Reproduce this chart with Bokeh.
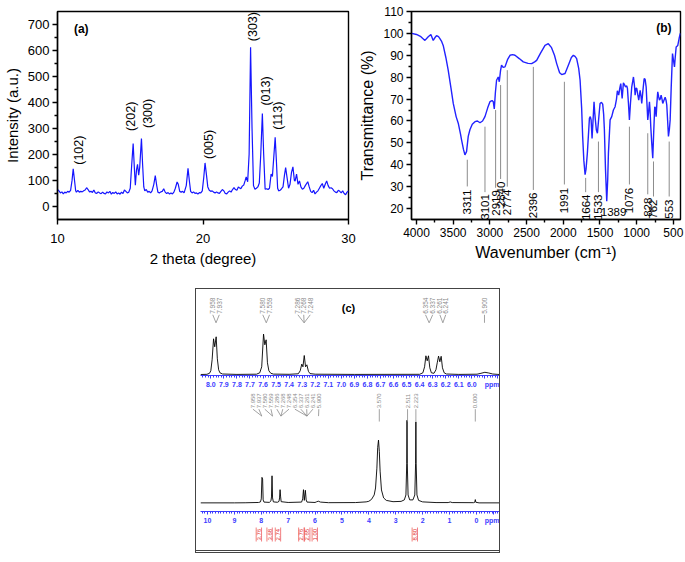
import numpy as np
from bokeh.plotting import figure
from bokeh.layouts import row, column
from bokeh.models import Range1d, FixedTicker, Spacer, PrintfTickFormatter
from bokeh.core.properties import value
from bokeh.embed import file_html
from bokeh.resources import INLINE

FONT = "Liberation Sans"

# ---------------- (a) XRD data ----------------
xrd_2theta = [10.0, 10.1, 10.2, 10.3, 10.4, 10.5, 10.6, 10.7, 10.8, 10.9, 11.0, 11.08, 11.18, 11.25, 11.3, 11.4,
              11.5, 11.6, 11.7, 11.8, 11.9, 12.0, 12.1, 12.2, 12.3, 12.4, 12.5, 12.6, 12.7, 12.8, 12.9, 13.0,
              13.1, 13.2, 13.3, 13.4, 13.5, 13.6, 13.7, 13.8, 13.9, 14.0, 14.1, 14.2, 14.3, 14.4, 14.5, 14.6,
              14.7, 14.8, 14.9, 15.0, 15.1, 15.2, 15.28, 15.35, 15.43, 15.5, 15.58, 15.65, 15.77, 15.85, 15.93,
              16.0, 16.1, 16.2, 16.3, 16.4, 16.5, 16.62, 16.72, 16.82, 16.9, 17.0, 17.1, 17.2, 17.3, 17.4, 17.5,
              17.6, 17.7, 17.8, 17.9, 18.0, 18.1, 18.22, 18.3, 18.4, 18.5, 18.6, 18.7, 18.85, 18.97, 19.07, 19.15,
              19.25, 19.35, 19.45, 19.55, 19.65, 19.75, 19.85, 19.95, 20.05, 20.14, 20.24, 20.33, 20.43, 20.53,
              20.63, 20.73, 20.83, 20.93, 21.03, 21.13, 21.23, 21.33, 21.43, 21.53, 21.63, 21.73, 21.83, 21.93,
              22.03, 22.13, 22.23, 22.33, 22.43, 22.5, 22.6, 22.7, 22.8, 22.9, 22.97, 23.07, 23.17, 23.27, 23.37,
              23.47, 23.57, 23.67, 23.77, 23.87, 23.97, 24.08, 24.17, 24.27, 24.37, 24.47, 24.57, 24.68, 24.77,
              24.96, 25.04, 25.13, 25.2, 25.3, 25.4, 25.5, 25.6, 25.68, 25.78, 25.88, 25.98, 26.08, 26.18, 26.28,
              26.33, 26.43, 26.53, 26.63, 26.73, 26.83, 26.93, 27.03, 27.2, 27.3, 27.4, 27.5, 27.6, 27.7, 27.8,
              27.9, 28.0, 28.1, 28.2, 28.3, 28.4, 28.5, 28.6, 28.7, 28.8, 28.9, 29.0, 29.1, 29.2, 29.3, 29.4,
              29.5, 29.6, 29.7, 29.8, 29.9, 30.0]
xrd_intensity = [65, 60, 52, 56, 48, 55, 52, 58, 55, 62, 100, 144, 95, 60, 55, 62,
                 55, 58, 56, 60, 63, 72, 65, 56, 58, 54, 63, 52, 50, 56, 52, 49,
                 55, 50, 48, 56, 52, 58, 47, 54, 50, 56, 48, 52, 47, 55, 50, 63,
                 58, 52, 55, 70, 160, 241, 150, 82, 140, 162, 120, 150, 261, 160, 75,
                 60, 65, 55, 58, 52, 60, 85, 118, 80, 55, 52, 56, 58, 68, 55, 50,
                 53, 48, 52, 48, 55, 70, 94, 85, 58, 55, 58, 52, 80, 146, 95, 58,
                 52, 56, 50, 52, 48, 53, 52, 60, 110, 167, 120, 75, 62, 58,
                 60, 55, 52, 56, 52, 50, 58, 65, 60, 50, 48, 55, 60, 55,
                 65, 72, 65, 62, 75, 72, 68, 78, 82, 100, 113, 95, 200, 611, 300,
                 80, 66, 70, 75, 90, 200, 357, 200, 66, 68, 65, 70, 124, 115,
                 265, 180, 70, 60, 62, 68, 75, 120, 149, 110, 70, 85, 130, 152, 100,
                 97, 124, 85, 98, 75, 66, 70, 80, 95, 75, 58, 53, 62, 48, 55, 60,
                 70, 80, 88, 70, 85, 98, 80, 70, 72, 68, 60, 55, 53, 62, 58, 52,
                 60, 50, 45, 55, 60, 50]
hkl_labels = ["(102)", "(202)", "(300)", "(005)", "(303)", "(013)", "(113)"]
hkl_2theta = [11.47, 15.05, 16.2, 20.38, 23.43, 24.31, 25.18]
hkl_label_base = [160, 290, 301, 182, 634, 387, 294]

# ---------------- (b) FTIR data ----------------
ir_wavenumber = [4065, 4000, 3940, 3885, 3840, 3804, 3772, 3750, 3727, 3700, 3681, 3660, 3636, 3600, 3568,
                 3530, 3499, 3460, 3431, 3400, 3386, 3360, 3340, 3318, 3295, 3272, 3240, 3203, 3170, 3135,
                 3100, 3067, 3030, 2999, 2970, 2954, 2940, 2925, 2909, 2886, 2872, 2855, 2841, 2820, 2794,
                 2760, 2726, 2690, 2658, 2600, 2545, 2480, 2431, 2390, 2363, 2310, 2249, 2204, 2160, 2120,
                 2090, 2050, 2022, 1976, 1931, 1890, 1863, 1840, 1818, 1790, 1771, 1750, 1736, 1720, 1703,
                 1690, 1672, 1655, 1644, 1632, 1621, 1608, 1595, 1581, 1572, 1563, 1550, 1535, 1515, 1499,
                 1480, 1463, 1450, 1440, 1425, 1408, 1395, 1385, 1362, 1340, 1317, 1294, 1275, 1263, 1245,
                 1230, 1217, 1198, 1181, 1165, 1153, 1135, 1126, 1112, 1099, 1085, 1067, 1044, 1030, 1021,
                 1010, 999, 985, 972, 953, 940, 931, 915, 898, 885, 871, 860, 849, 838, 826, 818, 808, 795,
                 781, 768, 754, 745, 735, 725, 713, 700, 690, 680, 667, 655, 645, 628, 612, 600, 590, 578,
                 567, 555, 544, 530, 512, 500, 485, 475, 462, 440, 420, 407, 403]
ir_transmittance = [100, 99.5, 98.5, 96.8, 98.5, 99.5, 96.8, 98, 99, 98.5, 97.6, 96.5, 94.5, 89, 83.2,
                    75, 68, 62, 59, 54, 51.4, 47, 44.5, 46, 53, 56, 58.5, 59.7, 60, 59.2,
                    60, 62, 66, 68.8, 69.3, 68.8, 65.5, 73, 78.6, 80.1, 77.9, 83, 85.5, 84.5, 84.7,
                    88, 90, 90.3, 90, 88.5, 87, 86.3, 86.2, 87, 87.7, 91, 94.5, 95.3, 93.5, 90,
                    86.2, 82, 81.2, 81.7, 85.5, 89, 90, 89.5, 88.5, 84, 78.6, 66, 52.9, 42, 35.5,
                    38, 45.3, 55, 61.2, 62, 60.5, 52, 60, 68.8, 64, 60.5, 56, 54.4, 62, 68,
                    68.5, 67.7, 63, 56, 38, 23.3, 33, 45.3, 60.5, 62, 65, 66.5, 70, 73.8, 71.8,
                    75, 77.1, 70.3, 77.4, 76.5, 75.6, 76, 74.9, 68, 60.5, 68, 75.6, 80.1, 76, 71.8,
                    75, 74.9, 72, 69.5, 74, 71, 68, 74, 79.4, 79, 75.6, 68, 60.5, 64, 68.8, 65, 57.4, 50,
                    43, 55, 66.5, 66, 62, 68, 73.3, 71, 69.5, 70, 71.8, 70, 68, 69.5, 70.8, 69.5, 67.3, 60,
                    52.9, 56, 60.5, 75, 90.8, 88, 84.7, 89, 93.8, 94.5, 98, 99.8, 100]
ir_labels = ["3311", "3101", "2919", "2840", "2774", "2396", "1991", "1664", "1533", "1076", "828", "762", "553"]
ir_label_x = [3308, 3067, 2922, 2854, 2763, 2408, 1985, 1695, 1521, 1099, 849, 771, 557]
ir_line_top = [42.3, 57.4, 65, 76.4, 83.2, 84.7, 77.9, 34, 50.6, 57.4, 54.4, 41.5, 50.6]
ir_line_bottom = [30.1, 27.5, 29.5, 33.5, 30, 28.5, 31, 27.5, 27.5, 31, 26.5, 25.5, 25.5]
ir_text_top = [28.6, 26.6, 28.4, 32.3, 28.6, 27.3, 29.5, 26.4, 26.4, 29.5, 25, 24.1, 24.1]
ir_flat_labels = ["1389"]
ir_flat_x = [1315]
ir_flat_y = [18.6]

# ---------------- (c) 1H NMR data ----------------
nmr_zoom_ppm = [8.079, 8.03, 8.01, 8.0, 7.99, 7.979, 7.970, 7.959, 7.95, 7.94, 7.93, 7.91, 7.8, 7.65, 7.625,
                7.61, 7.596, 7.586, 7.576, 7.566, 7.555, 7.54, 7.52, 7.40, 7.33, 7.315, 7.303, 7.294, 7.284,
                7.274, 7.264, 7.252, 7.24, 7.2, 6.9, 6.4, 6.375, 6.362, 6.352, 6.342, 6.332, 6.322, 6.31,
                6.29, 6.275, 6.265, 6.255, 6.245, 6.235, 6.225, 6.212, 6.195, 6.1, 5.96, 5.93, 5.90, 5.87,
                5.84, 5.8, 5.788]
nmr_zoom_int = [0.3, 0.5, 1.5, 4, 15, 36, 28, 38, 16, 5, 2, 0.8, 0.4, 0.6, 2,
                8, 40.7, 30, 35, 12, 4, 1.5, 0.7, 0.5, 1, 4, 10.7, 8, 19.3,
                8, 10, 3.5, 1.2, 0.6, 0.4, 0.5, 2, 8, 19, 14, 19, 7, 2,
                1.5, 5, 12, 18.7, 13, 18.5, 7, 2, 0.8, 0.4, 0.6, 1.5, 2.5, 1.8,
                0.8, 0.4, 0.3]
nmr_ppm = [10.26, 9.0, 8.6, 8.1, 8.03, 8.0, 7.975, 7.95, 7.93, 7.9, 7.7, 7.64, 7.62, 7.60, 7.58, 7.55,
           7.4, 7.34, 7.32, 7.30, 7.28, 7.26, 7.0, 6.5, 6.46, 6.43, 6.40, 6.36, 6.33, 6.30, 6.0, 5.95,
           5.88, 5.8, 5.5, 4.5, 4.1, 4.0, 3.9, 3.8, 3.75, 3.70, 3.67, 3.64, 3.61, 3.58, 3.53, 3.45,
           3.35, 3.1, 2.8, 2.68, 2.62, 2.59, 2.58, 2.57, 2.54, 2.48, 2.36, 2.29, 2.26, 2.25, 2.24,
           2.21, 2.15, 2.0, 1.5, 1.05, 0.97, 0.9, 0.1, 0.06, 0.04, 0.02, -0.1, -0.86]
nmr_int = [0, 0, 0.1, 0.4, 1, 4, 25.7, 24, 3, 0.8, 0.5, 2, 6, 27.3, 5, 1,
           0.6, 1.5, 5, 13.3, 6, 1.2, 0.4, 0.8, 4, 13.3, 2.5, 12.7, 3, 0.8, 0.4, 1,
           1.7, 0.8, 0.2, 0.3, 1, 1.6, 3.5, 8, 15, 35, 56, 63.3, 52, 32, 13, 5,
           2.5, 1.2, 1.5, 3, 8, 40, 83.3, 40, 8, 3, 3, 8, 40, 81.7, 40,
           8, 2.5, 1, 0.3, 0.3, 0.9, 0.3, 0.2, 0.6, 3.3, 0.6, 0, 0]
shift_labels = ["7.958", "7.937", "7.580", "7.559", "7.286", "7.268", "7.248",
                "6.354", "6.337", "6.261", "6.241", "5.900"]
zoom_label_x = [7.985, 7.935, 7.602, 7.550, 7.333, 7.288, 7.238, 6.355, 6.300, 6.245, 6.200, 5.903]
zoom_label_target = [7.960, 7.960, 7.575, 7.575, 7.285, 7.285, 7.285, 6.327, 6.327, 6.222, 6.222, 5.903]
full_labels = shift_labels + ["3.570", "2.511", "2.223", "0.000"]
full_label_x = [8.31, 8.09, 7.87, 7.64, 7.42, 7.20, 6.97, 6.75, 6.53, 6.31, 6.08, 5.86, 3.61, 2.56, 2.25, 0.04]
full_label_target = [7.98, 7.98, 7.58, 7.58, 7.27, 7.27, 7.27, 6.30, 6.30, 6.30, 6.30, 5.87, 3.61, 2.56, 2.25, 0.04]
full_label_end = [87.5] * 12 + [82, 82, 82, 82]
integrals = ["3.76", "3.68", "2.74", "2.76", "2.65", "1.00", "8.80"]
integral_x = [8.09, 7.69, 7.38, 6.51, 6.29, 6.01, 2.29]


def style_axes(p, tick_size, label_size, label_standoff_x, width=1.4):
    for ax in p.axis:
        ax.axis_line_color = "black"
        ax.axis_line_width = width
        ax.major_tick_line_color = "black"
        ax.minor_tick_line_color = "black"
        ax.major_tick_line_width = width
        ax.minor_tick_line_width = width
        ax.major_tick_in = 0
        ax.major_tick_out = 5
        ax.minor_tick_in = 0
        ax.minor_tick_out = 3
        ax.major_label_text_font = FONT
        ax.major_label_text_font_size = tick_size
        ax.major_label_text_color = "black"
        ax.axis_label_text_font = FONT
        ax.axis_label_text_font_size = label_size
        ax.axis_label_text_font_style = "normal"
        ax.axis_label_text_color = "black"
        ax.axis_label_standoff = 4
    p.xaxis.major_label_standoff = label_standoff_x
    p.yaxis.major_label_standoff = 3
    p.xgrid.visible = False
    p.ygrid.visible = False
    p.outline_line_color = "black"
    p.outline_line_width = width
    p.outline_line_alpha = 1.0


# ---------------- panel (a) ----------------
pa = figure(width=356, height=272, output_backend="svg", toolbar_location=None,
            x_range=Range1d(10, 30), y_range=Range1d(-50, 748),
            min_border_left=53, min_border_right=8, min_border_top=5, min_border_bottom=53,
            x_axis_label="2 theta (degree)", y_axis_label="Intensity (a.u.)")
pa.line(xrd_2theta, xrd_intensity, line_color="#1515ff", line_width=1.2)
pa.text(x=hkl_2theta, y=hkl_label_base, text=hkl_labels, angle=np.pi / 2,
        text_align="left", text_baseline="middle", text_font=value(FONT),
        text_font_size="12.5px", text_color="black")
pa.text(x=[11.13], y=[680], text=["(a)"], text_align="left", text_baseline="middle",
        text_font=value(FONT), text_font_size="12px", text_font_style="bold", text_color="black")
pa.xaxis.ticker = FixedTicker(ticks=[10, 20, 30])
pa.yaxis.ticker = FixedTicker(ticks=[0, 100, 200, 300, 400, 500, 600, 700],
                              minor_ticks=[50, 150, 250, 350, 450, 550, 650])
style_axes(pa, "13px", "15px", 9)

# ---------------- panel (b) ----------------
pb = figure(width=329, height=272, output_backend="svg", toolbar_location=None,
            x_range=Range1d(4068, 403), y_range=Range1d(15, 110),
            min_border_left=52, min_border_right=5, min_border_top=11, min_border_bottom=52,
            x_axis_label="Wavenumber (cm\u207b\u00b9)", y_axis_label="Transmittance (%)")
pb.segment(x0=ir_label_x, y0=ir_line_bottom, x1=ir_label_x, y1=ir_line_top,
           line_color="#8c8c8c", line_width=1)
pb.line(ir_wavenumber, ir_transmittance, line_color="#2222ff", line_width=1.4)
pb.text(x=ir_label_x, y=ir_text_top, text=ir_labels, angle=np.pi / 2,
        text_align="right", text_baseline="middle", text_font=value(FONT),
        text_font_size="11.5px", text_color="black")
pb.text(x=ir_flat_x, y=ir_flat_y, text=ir_flat_labels, text_align="center", text_baseline="middle",
        text_font=value(FONT), text_font_size="11.5px", text_color="black")
pb.text(x=[526], y=[102.3], text=["(b)"], text_align="right", text_baseline="middle",
        text_font=value(FONT), text_font_size="12px", text_font_style="bold", text_color="black")
pb.xaxis.ticker = FixedTicker(ticks=[4000, 3500, 3000, 2500, 2000, 1500, 1000, 500],
                              minor_ticks=[3750, 3250, 2750, 2250, 1750, 1250, 750])
pb.yaxis.ticker = FixedTicker(ticks=[20, 30, 40, 50, 60, 70, 80, 90, 100, 110],
                              minor_ticks=[25, 35, 45, 55, 65, 75, 85, 95, 105])
style_axes(pb, "12px", "16px", 3)

# ---------------- panel (c) ----------------
BLUE = "#3b3bff"
GRAY = "#8a8a8a"


def style_nmr_axis(p, ticks, minor, overrides, fmt):
    ax = p.xaxis[0]
    ax.ticker = FixedTicker(ticks=ticks, minor_ticks=minor)
    ax.formatter = PrintfTickFormatter(format=fmt)
    ax.major_label_overrides = overrides
    ax.axis_line_color = BLUE
    ax.axis_line_width = 1.2
    ax.major_tick_line_color = BLUE
    ax.minor_tick_line_color = BLUE
    ax.major_tick_in = 0
    ax.major_tick_out = 3
    ax.minor_tick_in = 0
    ax.minor_tick_out = 2
    ax.major_label_standoff = 2
    ax.major_label_text_font = FONT
    ax.major_label_text_font_size = "7px"
    ax.major_label_text_font_style = "bold"
    ax.major_label_text_color = BLUE
    p.xgrid.visible = False
    p.ygrid.visible = False
    p.outline_line_color = None


pc1 = figure(width=303, height=103, output_backend="svg", toolbar_location=None,
             x_range=Range1d(8.079, 5.788), y_range=Range1d(-0.7, 85.3), y_axis_location=None,
             min_border_left=4, min_border_right=0, min_border_top=0, min_border_bottom=17)
pc1.line(nmr_zoom_ppm, nmr_zoom_int, line_color="black", line_width=0.9)
pc1.segment(x0=zoom_label_x, y0=[60] * 12, x1=zoom_label_target, y1=[52] * 12,
            line_color=GRAY, line_width=0.8)
pc1.text(x=zoom_label_x, y=[61] * 12, text=shift_labels, angle=np.pi / 2, text_align="left",
         text_baseline="middle", text_font=value(FONT), text_font_size="6.5px", text_color=GRAY)
pc1.text(x=[6.945], y=[66.6], text=["(c)"], text_align="center", text_baseline="middle",
         text_font=value(FONT), text_font_size="11px", text_font_style="bold", text_color="black")
c1_ticks = [round(8.0 - 0.1 * i, 1) for i in range(23)]
c1_minor = [round(v, 2) for v in np.arange(5.80, 8.08, 0.02)]
style_nmr_axis(pc1, c1_ticks, c1_minor, {5.9: "", 5.8: "ppm"}, "%.1f")

pc2 = figure(width=303, height=134, output_backend="svg", toolbar_location=None,
             x_range=Range1d(10.26, -0.86), y_range=Range1d(-8.7, 111.3), y_axis_location=None,
             min_border_left=4, min_border_right=0, min_border_top=0, min_border_bottom=14)
pc2.line(nmr_ppm, nmr_int, line_color="black", line_width=0.9)
pc2.segment(x0=full_label_x, y0=[94.5] * 16, x1=full_label_target, y1=full_label_end,
            line_color=GRAY, line_width=0.8)
pc2.text(x=full_label_x, y=[95.3] * 16, text=full_labels, angle=np.pi / 2, text_align="left",
         text_baseline="middle", text_font=value(FONT), text_font_size="6px", text_color=GRAY)
c2_ticks = [10, 9, 8, 7, 6, 5, 4, 3, 2, 1, 0, -0.65]
c2_minor = [round(v, 1) for v in np.arange(-0.8, 10.25, 0.1)]
style_nmr_axis(pc2, c2_ticks, c2_minor, {-0.65: "ppm"}, "%d")

pc3 = figure(width=303, height=24, output_backend="svg", toolbar_location=None,
             x_range=Range1d(10.26, -0.86), y_range=Range1d(0, 24),
             x_axis_location=None, y_axis_location=None,
             min_border_left=4, min_border_right=0, min_border_top=0, min_border_bottom=0)
pc3.xgrid.visible = False
pc3.ygrid.visible = False
pc3.outline_line_color = None
left_edge = [v + 0.1 for v in integral_x]
right_edge = [v - 0.1 for v in integral_x]
pc3.segment(x0=left_edge, y0=[23] * 7, x1=left_edge, y1=[9] * 7, line_color="#f06060", line_width=0.8)
pc3.segment(x0=right_edge, y0=[23] * 7, x1=right_edge, y1=[9] * 7, line_color="#f06060", line_width=0.8)
pc3.text(x=integral_x, y=[10] * 7, text=integrals, angle=np.pi / 2, text_align="left",
         text_baseline="middle", text_font=value(FONT), text_font_size="6px", text_color="#e03030")

pc = column(pc1, pc2, pc3, styles={"border": "1px solid #444444", "border-bottom": "3px double #444444"})

layout = column(row(pa, pb), Spacer(width=10, height=16), row(Spacer(width=195, height=10), pc))

open("out.html", "w").write(file_html(layout, INLINE))
